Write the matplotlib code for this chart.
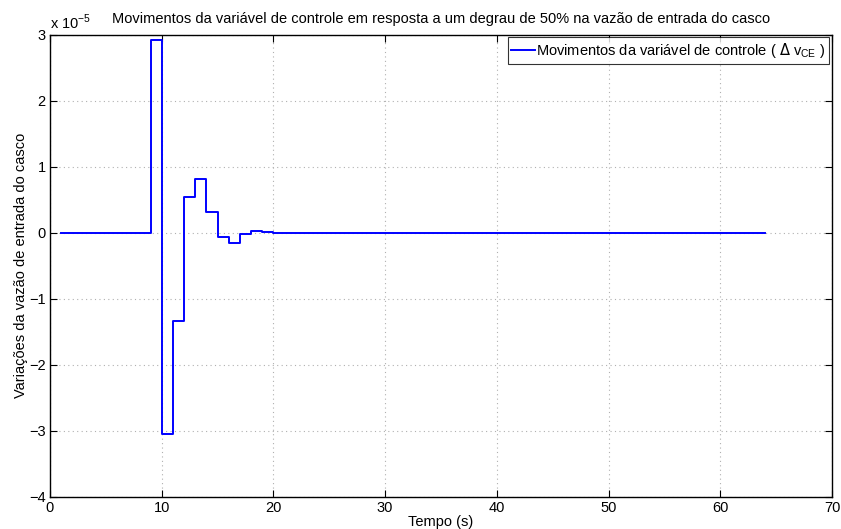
import matplotlib
matplotlib.use("Agg")
import matplotlib.pyplot as plt

plt.rcParams['font.family'] = ['Liberation Sans', 'DejaVu Sans']

# Control variable moves (units of 1e-5), one sample per second starting at t = 1 s
tempo = list(range(1, 65))
delta_v = [0.0, 0.0, 0.0, 0.0, 0.0, 0.0, 0.0, 0.0,
           2.92, -3.04, -1.34, 0.54, 0.81, 0.31, -0.07, -0.155,
           -0.02, 0.03, 0.015, 0.0, -0.01, -0.005, 0.0, 0.0,
           0.0, 0.0, 0.0, 0.0, 0.0, 0.0, 0.0, 0.0,
           0.0, 0.0, 0.0, 0.0, 0.0, 0.0, 0.0, 0.0,
           0.0, 0.0, 0.0, 0.0, 0.0, 0.0, 0.0, 0.0,
           0.0, 0.0, 0.0, 0.0, 0.0, 0.0, 0.0, 0.0,
           0.0, 0.0, 0.0, 0.0, 0.0, 0.0, 0.0, 0.0]
escala = 1e-5

x_ticks = [0, 10, 20, 30, 40, 50, 60, 70]
y_ticks = [-4, -3, -2, -1, 0, 1, 2, 3]

fs = 10.5

fig = plt.figure(figsize=(8.41, 5.29), dpi=100)
ax = fig.add_axes([50 / 841, 1 - 497 / 529, (832 - 50) / 841, (497 - 34.5) / 529])

ax.step(tempo, [v * escala for v in delta_v], where='post', color=(0, 0, 1),
        lw=1.4, label=r'Movimentos da variável de controle ( $\Delta$ v$_{\mathregular{CE}}$ )')

ax.set_xlim(0, 70)
ax.set_ylim(-4 * escala, 3 * escala)
ax.set_xticks(x_ticks)
ax.set_xticklabels([str(t) for t in x_ticks])
ax.set_yticks([t * escala for t in y_ticks])
ax.set_yticklabels([str(t).replace('-', '\u2212') for t in y_ticks])

ax.grid(True, linestyle=(0, (1, 3)), color='#b0b0b0', lw=0.8)
ax.tick_params(direction='in', top=True, right=True, labelsize=fs, length=5, width=0.8, pad=3)
for s in ax.spines.values():
    s.set_linewidth(1.0)

ax.text(0.0, 1.005, r'x 10$^{\mathregular{-5}}$', transform=ax.transAxes,
        fontsize=fs, ha='left', va='bottom')

ax.set_title('Movimentos da variável de controle em resposta a um degrau de 50% na vazão de entrada do casco',
             fontsize=fs, pad=8)
ax.set_xlabel('Tempo (s)', fontsize=fs, labelpad=0)
ax.set_ylabel('Variações da vazão de entrada do casco', fontsize=fs, labelpad=1)

leg = ax.legend(loc='upper right', fontsize=fs, frameon=True, fancybox=False,
                handlelength=1.6, handletextpad=0.1, borderpad=0.25,
                borderaxespad=0.2)
leg.get_frame().set_edgecolor('black')
leg.get_frame().set_linewidth(0.8)

fig.savefig('out.png', dpi=100)
